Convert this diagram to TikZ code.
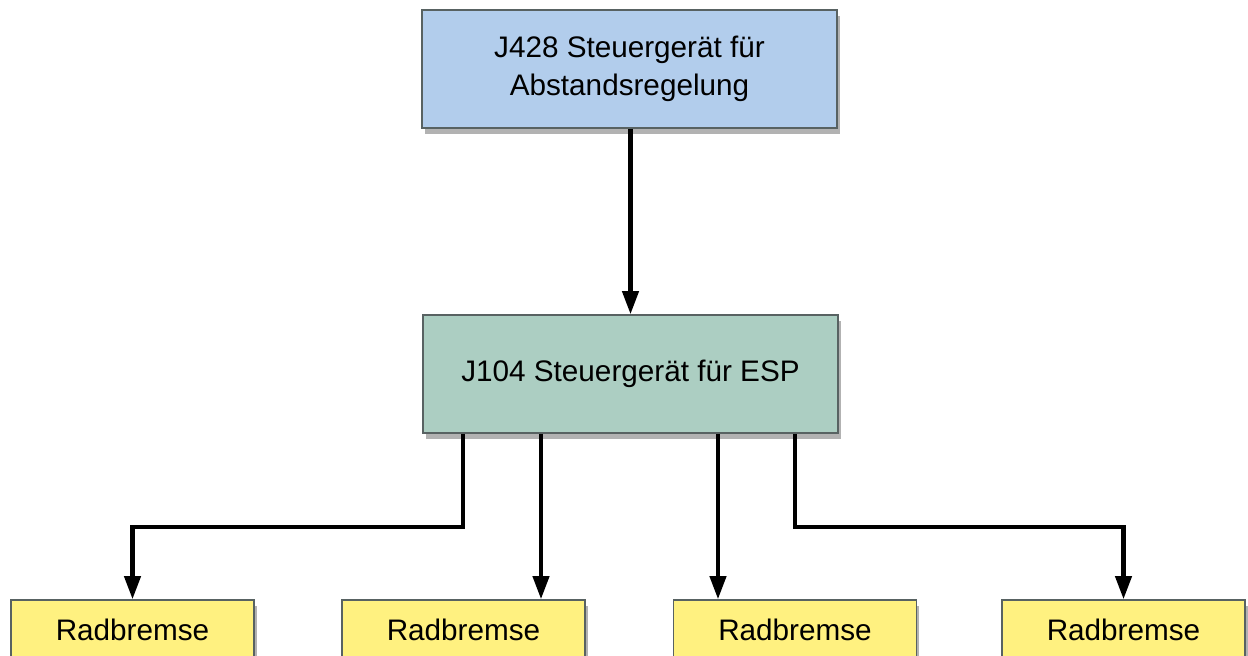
\documentclass[tikz,border=0pt]{standalone}
\usepackage{fontspec}
\setmainfont{Liberation Sans}
\usepackage{xcolor}
\usepackage{tikz}
\usetikzlibrary{arrows.meta,positioning,calc,shadows}
\definecolor{acublue}{RGB}{178,205,236}
\definecolor{espgreen}{RGB}{172,206,194}
\definecolor{brakeyellow}{RGB}{255,241,128}
\definecolor{boxline}{RGB}{88,98,98}

\begin{document}
\begin{tikzpicture}[
  x=0.02cm, y=-0.02cm,
  unit/.style 2 args={
    rectangle, draw=boxline, line width=0.9pt, fill=#1,
    minimum width=#2, inner sep=0pt, align=center,
    font=\fontsize{16.9}{21.5}\selectfont,
    drop shadow={shadow xshift=1.5pt, shadow yshift=-3.5pt,
                 opacity=0.3, fill=black}
  },
  wire/.style={-{Triangle[length=4.6mm,width=3.2mm]}, line width=2.3pt,
               draw=black, line join=miter}
]
\clip (0,0) rectangle (1248,656);
\fill[white] (0,0) rectangle (1248,656);
\node[unit={acublue}{8.3cm}, minimum height=2.36cm] (j428) at (629.5,69)
  {J428 Steuergerät für\\Abstandsregelung};
\node[unit={espgreen}{8.3cm}, minimum height=2.36cm] (j104) at (630.5,374)
  {J104 Steuergerät für ESP};
\node[unit={brakeyellow}{4.86cm}, minimum height=1.2cm] (rb1) at (132.5,630)
  {Radbremse};
\node[unit={brakeyellow}{4.86cm}, minimum height=1.2cm] (rb2) at (463.5,630)
  {Radbremse};
\node[unit={brakeyellow}{4.86cm}, minimum height=1.2cm] (rb3) at (795,630)
  {Radbremse};
\node[unit={brakeyellow}{4.86cm}, minimum height=1.2cm] (rb4) at (1123.5,630)
  {Radbremse};
\coordinate (b1) at (463,527);
\coordinate (b2) at (541,527);
\coordinate (b3) at (718,527);
\coordinate (b4) at (795,527);
\draw[wire] (j428.south -| j104.north) -- (j104.north);
\draw[wire] (j104.south -| b1) -- (b1) -| (rb1.north);
\draw[wire] (j104.south -| b2) -- (rb2.north -| b2);
\draw[wire] (j104.south -| b3) -- (rb3.north -| b3);
\draw[wire] (j104.south -| b4) -- (b4) -| (rb4.north);
\end{tikzpicture}
\end{document}
